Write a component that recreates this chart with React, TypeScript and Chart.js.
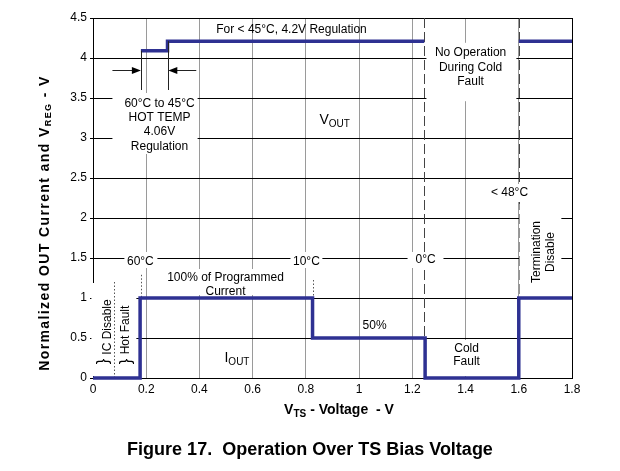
import { useEffect, useRef } from 'react';
import { Chart, registerables } from 'chart.js';
Chart.register(...registerables);

const FONT = "'Liberation Sans', Arial, Helvetica, sans-serif";

// Axis ticks
const xTickValues = [0, 0.2, 0.4, 0.6, 0.8, 1, 1.2, 1.4, 1.6, 1.8];
const xTickLabels = ['0', '0.2', '0.4', '0.6', '0.8', '1', '1.2', '1.4', '1.6', '1.8'];
const yTickValues = [0, 0.5, 1, 1.5, 2, 2.5, 3, 3.5, 4, 4.5];
const yTickLabels = ['0', '0.5', '1', '1.5', '2', '2.5', '3', '3.5', '4', '4.5'];

// V_OUT regulation voltage (V) vs V_TS (V); null = no operation
const voutX = [0.18, 0.28, 0.28, 1.245, 1.42, 1.6, 1.8];
const voutY = [4.09, 4.09, 4.21, 4.21, null, 4.21, 4.21];

// I_OUT normalized current vs V_TS (V)
const ioutX = [0, 0.177, 0.177, 0.825, 0.825, 1.248, 1.248, 1.6, 1.6, 1.8];
const ioutY = [0, 0, 1, 1, 0.5, 0.5, 0, 0, 1, 1];

// Threshold markers (V_TS values)
const dashedX = [1.245, 1.6];
const dashedTop = [4.5, 4.5];
const dashedBottom = [0, 1];
const dottedX = [0.08, 0.18, 0.825];
const dottedTop = [1.2, 1.29, 1.225];
const dottedBottom = [0, 1, 1];

// Annotation texts
const labelTexts = [
  'For < 45°C, 4.2V Regulation',
  '60°C to 45°C', 'HOT TEMP', '4.06V', 'Regulation',
  'No Operation', 'During Cold', 'Fault',
  '< 48°C', '0°C', '60°C', '10°C',
  '100% of Programmed', 'Current', '50%', 'Cold', 'Fault',
];
const labelX = [0.746, 0.25, 0.25, 0.25, 0.25, 1.419, 1.419, 1.419, 1.565, 1.25, 0.178, 0.802, 0.498, 0.498, 1.058, 1.404, 1.404];
const labelY = [4.35, 3.425, 3.25, 3.075, 2.89, 4.0625, 3.875, 3.7, 2.3125, 1.475, 1.45, 1.45, 1.25, 1.075, 0.65, 0.3625, 0.2];

const vertTexts = ['Termination', 'Disable', 'IC Disable', 'Hot Fault'];
const vertX = [1.666, 1.719, 0.055, 0.124];
const vertY = [1.575, 1.575, 0.6375, 0.6];

const braceX = [0.04, 0.124];
const braceY = [0.206, 0.206];

// white label backgrounds [x1, x2, y1, y2] in data units
const boxes = [
  [0.073, 0.393, 3.5625, 2.8],
  [1.253, 1.591, 4.19, 3.46],
  [1.49, 1.644, 2.425, 2.2],
  [1.603, 1.76, 2.175, 1.05],
  [1.182, 1.317, 1.575, 1.375],
  [0.118, 0.242, 1.575, 1.375],
  [0.742, 0.862, 1.575, 1.375],
  [0.261, 0.738, 1.3625, 1.0375],
  [1.257, 1.588, 0.475, 0.025],
  [-0.006, 0.163, 1.1875, 0.025],
];

type Part = [string, boolean];

function drawParts(ctx: CanvasRenderingContext2D, parts: Part[], cx: number, cy: number, main: string, sub: string, subDrop: number, align: 'left' | 'center') {
  let total = 0;
  const widths = parts.map(([t, s]) => {
    ctx.font = s ? sub : main;
    const w = ctx.measureText(t).width;
    total += w;
    return w;
  });
  let x = align === 'center' ? cx - total / 2 : cx;
  ctx.textAlign = 'left';
  ctx.textBaseline = 'middle';
  parts.forEach(([t, s], i) => {
    ctx.font = s ? sub : main;
    ctx.fillText(t, x, cy + (s ? subDrop : 0));
    x += widths[i];
  });
}

export default function App() {
  const ref = useRef<HTMLCanvasElement>(null);
  useEffect(() => {
    const canvas = ref.current;
    if (!canvas) return;

    const plugin = {
      id: 'annotations',
      beforeDatasetsDraw(chart: any) {
        const ctx: CanvasRenderingContext2D = chart.ctx;
        const a = chart.chartArea;
        const X = (v: number) => chart.scales.x.getPixelForValue(v);
        const Y = (v: number) => chart.scales.y.getPixelForValue(v);
        ctx.save();
        ctx.strokeStyle = '#000';
        ctx.lineWidth = 1;
        ctx.beginPath();
        ctx.moveTo(Math.round(a.right) + 0.5, a.top);
        ctx.lineTo(Math.round(a.right) + 0.5, a.bottom);
        ctx.stroke();
        // dashed lines
        ctx.strokeStyle = '#444';
        ctx.setLineDash([10, 4]);
        dashedX.forEach((v, i) => {
          const px = Math.round(X(v)) + 0.5;
          ctx.beginPath();
          ctx.moveTo(px, Y(dashedTop[i]));
          ctx.lineTo(px, Y(dashedBottom[i]));
          ctx.stroke();
        });
        ctx.setLineDash([]);
        // white boxes
        ctx.fillStyle = '#fff';
        boxes.forEach(([x1, x2, y1, y2]) => {
          const px1 = X(x1), px2 = X(x2), py1 = Y(y1), py2 = Y(y2);
          ctx.fillRect(Math.min(px1, px2), Math.min(py1, py2), Math.abs(px2 - px1), Math.abs(py2 - py1));
        });
        // dotted lines
        ctx.strokeStyle = '#555';
        ctx.setLineDash([1.5, 2]);
        dottedX.forEach((v, i) => {
          const px = Math.round(X(v)) + 0.5;
          ctx.beginPath();
          ctx.moveTo(px, Y(dottedTop[i]));
          ctx.lineTo(px, Y(dottedBottom[i]));
          ctx.stroke();
        });
        ctx.setLineDash([]);
        ctx.restore();
      },
      afterDatasetsDraw(chart: any) {
        const ctx: CanvasRenderingContext2D = chart.ctx;
        const X = (v: number) => chart.scales.x.getPixelForValue(v);
        const Y = (v: number) => chart.scales.y.getPixelForValue(v);
        ctx.save();
        ctx.fillStyle = '#000';
        ctx.font = `12px ${FONT}`;
        ctx.textAlign = 'center';
        ctx.textBaseline = 'middle';
        labelTexts.forEach((t, i) => ctx.fillText(t, X(labelX[i]), Y(labelY[i])));
        vertTexts.forEach((t, i) => {
          ctx.save();
          ctx.translate(X(vertX[i]), Y(vertY[i]));
          ctx.rotate(-Math.PI / 2);
          ctx.fillText(t, 0, 0);
          ctx.restore();
        });
        ctx.font = `17px ${FONT}`;
        braceX.forEach((v, i) => {
          ctx.save();
          ctx.translate(X(v), Y(braceY[i]));
          ctx.rotate(-Math.PI / 2);
          ctx.fillText('}', 0, 0);
          ctx.restore();
        });
        // V_OUT and I_OUT labels
        drawParts(ctx, [['V', false], ['OUT', true]], X(0.851), Y(3.225), `14px ${FONT}`, `10px ${FONT}`, 4, 'left');
        drawParts(ctx, [['I', false], ['OUT', true]], X(0.494), Y(0.25), `14px ${FONT}`, `10px ${FONT}`, 4, 'left');
        // arrows and markers
        ctx.strokeStyle = '#222';
        ctx.lineWidth = 1;
        const ay = Math.round(Y(3.85)) + 0.5;
        const arrow = (from: number, to: number) => {
          const f = X(from), t = X(to);
          const dir = Math.sign(t - f);
          ctx.beginPath();
          ctx.moveTo(f, ay);
          ctx.lineTo(t - dir * 6, ay);
          ctx.stroke();
          ctx.beginPath();
          ctx.moveTo(t, ay);
          ctx.lineTo(t - dir * 9, ay - 3.5);
          ctx.lineTo(t - dir * 9, ay + 3.5);
          ctx.closePath();
          ctx.fill();
        };
        arrow(0.073, 0.18);
        arrow(0.388, 0.283);
        [[0.18, 4.09], [0.28, 4.21]].forEach(([v, top]) => {
          const px = Math.round(X(v)) + 0.5;
          ctx.beginPath();
          ctx.moveTo(px, Y(top));
          ctx.lineTo(px, Y(3.6));
          ctx.stroke();
        });
        ctx.restore();
      },
      afterDraw(chart: any) {
        const ctx: CanvasRenderingContext2D = chart.ctx;
        ctx.save();
        ctx.fillStyle = '#000';
        // y axis title
        ctx.save();
        ctx.translate(45, 223);
        ctx.rotate(-Math.PI / 2);
        (ctx as any).letterSpacing = '1.4px';
        drawParts(ctx, [['Normalized OUT Current and V', false], ['REG', true], [' - V', false]], 0, 0, `bold 14px ${FONT}`, `bold 9px ${FONT}`, 4, 'center');
        ctx.restore();
        (ctx as any).letterSpacing = '0px';
        // x axis title
        drawParts(ctx, [['V', false], ['TS', true], [' - Voltage  - V', false]], 339, 410, `bold 14px ${FONT}`, `bold 10px ${FONT}`, 4, 'center');
        // caption
        ctx.font = `bold 18px ${FONT}`;
        ctx.textAlign = 'center';
        ctx.textBaseline = 'middle';
        ctx.fillText('Figure 17.  Operation Over TS Bias Voltage', 310, 450);
        ctx.restore();
      },
    };

    const chart = new Chart(canvas, {
      type: 'line',
      data: {
        datasets: [
          {
            label: 'VOUT',
            data: voutX.map((x, i) => ({ x, y: voutY[i] as any })),
            borderColor: '#2e3192',
            borderWidth: 3.5,
            pointRadius: 0,
            spanGaps: false,
            tension: 0,
            clip: false as any,
            borderJoinStyle: 'miter',
          },
          {
            label: 'IOUT',
            data: ioutX.map((x, i) => ({ x, y: ioutY[i] })),
            borderColor: '#2e3192',
            borderWidth: 3.5,
            pointRadius: 0,
            tension: 0,
            clip: false as any,
            borderJoinStyle: 'miter',
          },
        ],
      },
      options: {
        animation: false,
        responsive: false,
        devicePixelRatio: 1,
        layout: { padding: { left: 0, right: 48, top: 18, bottom: 0 } },
        plugins: { legend: { display: false }, tooltip: { enabled: false } },
        scales: {
          x: {
            type: 'linear',
            min: 0,
            max: 1.8,
            afterBuildTicks: (s: any) => { s.ticks = xTickValues.map((v) => ({ value: v })); },
            afterFit: (s: any) => { s.height = 93; },
            grid: { color: '#9a9a9a', lineWidth: 1, drawTicks: false },
            border: { color: '#000', width: 1 },
            ticks: {
              autoSkip: false,
              maxRotation: 0,
              padding: 4,
              color: '#000',
              font: { family: FONT, size: 12 },
              callback: (_v: any, i: number) => xTickLabels[i],
            },
          },
          y: {
            type: 'linear',
            min: 0,
            max: 4.5,
            afterBuildTicks: (s: any) => { s.ticks = yTickValues.map((v) => ({ value: v })); },
            afterFit: (s: any) => { s.width = 93; },
            grid: { color: '#000', lineWidth: 1, tickLength: 3 },
            border: { color: '#000', width: 1 },
            ticks: {
              padding: 3,
              color: '#000',
              font: { family: FONT, size: 12 },
              callback: (_v: any, i: number) => yTickLabels[i],
            },
          },
        },
      },
      plugins: [plugin],
    } as any);
    return () => chart.destroy();
  }, []);

  return (
    <div style={{ position: 'absolute', left: 0, top: 0, width: 620, height: 471, background: '#fff' }}>
      <canvas ref={ref} width={620} height={471} style={{ display: 'block', width: 620, height: 471 }} />
    </div>
  );
}
